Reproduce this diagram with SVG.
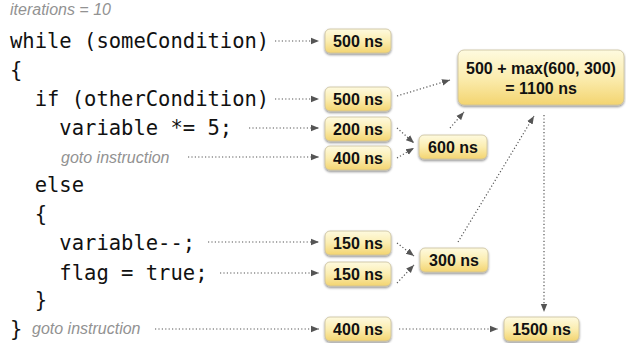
<svg xmlns="http://www.w3.org/2000/svg" width="626" height="343" viewBox="0 0 626 343">
<defs>
<linearGradient id="g" x1="0" y1="0" x2="0" y2="1">
<stop offset="0" stop-color="#fefadf"/>
<stop offset="0.5" stop-color="#fbedb0"/>
<stop offset="1" stop-color="#f3d470"/>
</linearGradient>
<filter id="sh" x="-20%" y="-30%" width="140%" height="170%">
<feDropShadow dx="0" dy="1.5" stdDeviation="1.3" flood-color="#000" flood-opacity="0.45"/>
</filter>
<marker id="ah" viewBox="0 0 10 10" refX="10" refY="5" markerWidth="8" markerHeight="8" markerUnits="userSpaceOnUse" orient="auto">
<path d="M0,1 L10,5 L0,9 Z" fill="#555"/>
</marker>
</defs>
<style>
.code{font-family:"DejaVu Sans Mono",monospace;font-size:20.5px;fill:#111;}
.note{font-family:"Liberation Sans",Arial,sans-serif;font-style:italic;font-size:16px;fill:#929292;}
.box rect{fill:url(#g);stroke:#c9bf9c;stroke-width:0.8;filter:url(#sh);}
.box text{font-family:"Liberation Sans",Arial,sans-serif;font-weight:bold;font-size:16px;fill:#111;text-anchor:middle;}
.conn path{fill:none;stroke:#555;stroke-width:1.2;stroke-dasharray:1.2 2.2;marker-end:url(#ah);}
</style>

<g id="code">
<text class="note" x="10" y="15">iterations = 10</text>
<text class="code" x="10" y="48" xml:space="preserve">while (someCondition)</text>
<text class="code" x="10" y="77">{</text>
<text class="code" x="10" y="106" xml:space="preserve">  if (otherCondition)</text>
<text class="code" x="10" y="135" xml:space="preserve">    variable *= 5;</text>
<text class="note" x="61" y="163">goto instruction</text>
<text class="code" x="10" y="192" xml:space="preserve">  else</text>
<text class="code" x="10" y="221" xml:space="preserve">  {</text>
<text class="code" x="10" y="250" xml:space="preserve">    variable--;</text>
<text class="code" x="10" y="280" xml:space="preserve">    flag = true;</text>
<text class="code" x="10" y="307" xml:space="preserve">  }</text>
<text class="code" x="10" y="336">}</text>
<text class="note" x="32" y="334">goto instruction</text>
</g>

<g id="connectors" class="conn">
<path d="M275,41 L319,41"/>
<path d="M275,99 L319,99"/>
<path d="M249,128 L319,128"/>
<path d="M188,157 L319,157"/>
<path d="M208,242 L319,242"/>
<path d="M220,273 L319,273"/>
<path d="M155,329 L319,329"/>
<path d="M399,329 L498,329"/>
<path d="M397,96 L450,80"/>
<path d="M397,128 L414,143"/>
<path d="M397,158 L414,148"/>
<path d="M450,128 L464,112"/>
<path d="M397,243 L414,256"/>
<path d="M397,283 L414,265"/>
<path d="M458,242 L534,116"/>
<path d="M544,115 L544,312"/>
</g>

<g id="n1" class="box"><rect x="325" y="29" width="66" height="24" rx="5"/><text x="358" y="47">500 ns</text></g>
<g id="n2" class="box"><rect x="325" y="87" width="66" height="24" rx="5"/><text x="358" y="105">500 ns</text></g>
<g id="n3" class="box"><rect x="325" y="117" width="66" height="24" rx="5"/><text x="358" y="135">200 ns</text></g>
<g id="n4" class="box"><rect x="325" y="146" width="66" height="24" rx="5"/><text x="358" y="164">400 ns</text></g>
<g id="n5" class="box"><rect x="419" y="135" width="68" height="24" rx="5"/><text x="453" y="153">600 ns</text></g>
<g id="n6" class="box"><rect x="458" y="50" width="166" height="55" rx="6"/><text x="541" y="74">500 + max(600, 300)</text><text x="541" y="94">= 1100 ns</text></g>
<g id="n7" class="box"><rect x="325" y="231" width="66" height="24" rx="5"/><text x="358" y="249">150 ns</text></g>
<g id="n8" class="box"><rect x="325" y="262" width="66" height="24" rx="5"/><text x="358" y="280">150 ns</text></g>
<g id="n9" class="box"><rect x="420" y="248" width="68" height="24" rx="5"/><text x="454" y="266">300 ns</text></g>
<g id="n10" class="box"><rect x="325" y="317" width="66" height="24" rx="5"/><text x="358" y="335">400 ns</text></g>
<g id="n11" class="box"><rect x="504" y="317" width="75" height="24" rx="5"/><text x="541.5" y="335">1500 ns</text></g>
</svg>
